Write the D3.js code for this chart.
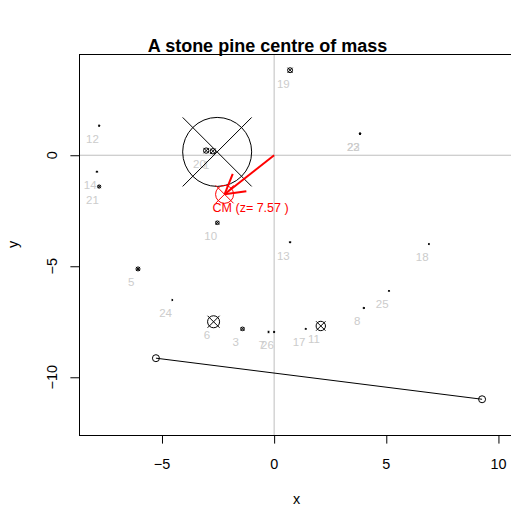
<!DOCTYPE html>
<html>
<head>
<meta charset="utf-8">
<script src="https://cdn.jsdelivr.net/npm/d3@7"></script>
<style>
  body { margin: 0; background: #fff; }
  svg { font-family: "Liberation Sans", Arial, Helvetica, sans-serif; }
</style>
</head>
<body>
<div id="chart"></div>
<script>
// branch masses (symbol size ~ mass)
const labels = ['1', '20', '', '12', '14', '21', '19', '22', '23', '10', '13', '18',
                '5', '24', '6', '3', '7', '26', '17', '11', '8', '25'];
const xs     = [-2.73, -3.03, -2.54, -7.80, -7.90, -7.80, 0.71, 3.83, 3.83, -2.53, 0.71, 6.90,
                -6.07, -4.54, -2.70, -1.41, -0.25, 0.00, 1.41, 2.08, 4.00, 5.12];
const ys     = [0.18, 0.21, 0.15, 1.33, -0.74, -1.41, 3.83, 0.97, 0.97, -3.04, -3.92, -4.00,
                -5.12, -6.52, -7.50, -7.82, -7.96, -7.96, -7.82, -7.69, -6.88, -6.11];
const masses = [7.8, 7.8, 100, 2, 2, 4.6, 7.2, 2, 2, 5.3, 2, 1.6,
                5.8, 1.6, 17.4, 5.3, 2, 2, 1.6, 13.6, 2, 1.6];

// base line of the tree
const baseX = [-5.27, 9.27];
const baseY = [-9.14, -10.99];

// centre of mass
const cmX = -2.21, cmY = -1.76, cmZ = 7.57;

const xTicks = [-5, 0, 5, 10];
const yTicks = [-10, -5, 0];

const W = 511, H = 507;
const plot = { left: 79, right: 511, top: 54, bottom: 435 };

const xScale = d3.scaleLinear().domain([-8.70, 10.56]).range([plot.left, plot.right]);
const yScale = d3.scaleLinear().domain([-12.6, 4.56]).range([plot.bottom, plot.top]);
const rScale = d3.scaleLinear().domain([0, 100]).range([0, 34.5]);

const svg = d3.select('#chart').append('svg')
    .attr('width', W)
    .attr('height', H);

const points = xs.map((x, i) => ({ label: labels[i], x: x, y: ys[i], m: masses[i] }));

// reference lines through the origin
svg.append('line')
    .attr('x1', xScale(0)).attr('x2', xScale(0))
    .attr('y1', plot.top).attr('y2', plot.bottom)
    .attr('stroke', '#bebebe');
svg.append('line')
    .attr('x1', plot.left).attr('x2', plot.right)
    .attr('y1', yScale(0)).attr('y2', yScale(0))
    .attr('stroke', '#bebebe');

// circle-cross symbol (R pch 13)
function crossCircle(g, cx, cy, r, colour) {
  g.append('circle')
      .attr('cx', cx).attr('cy', cy).attr('r', r)
      .attr('fill', 'none').attr('stroke', colour);
  g.append('line')
      .attr('x1', cx - r).attr('y1', cy - r).attr('x2', cx + r).attr('y2', cy + r)
      .attr('stroke', colour);
  g.append('line')
      .attr('x1', cx - r).attr('y1', cy + r).attr('x2', cx + r).attr('y2', cy - r)
      .attr('stroke', colour);
}

// labels, a little below-left of each point
svg.append('g').selectAll('text')
    .data(points)
  .enter().append('text')
    .attr('x', d => xScale(d.x - 0.3))
    .attr('y', d => yScale(d.y - 0.6))
    .attr('dy', '0.35em')
    .attr('text-anchor', 'middle')
    .style('font-size', '11.5px')
    .style('fill', '#cccccc')
    .text(d => d.label);

const symbols = svg.append('g');
points.forEach(d => crossCircle(symbols, xScale(d.x), yScale(d.y), rScale(d.m), '#000'));

// base line with open circles
svg.append('path')
    .datum(baseX.map((x, i) => [x, baseY[i]]))
    .attr('d', d3.line().x(d => xScale(d[0])).y(d => yScale(d[1])))
    .attr('fill', 'none')
    .attr('stroke', '#000');
svg.append('g').selectAll('circle')
    .data(baseX.map((x, i) => [x, baseY[i]]))
  .enter().append('circle')
    .attr('cx', d => xScale(d[0]))
    .attr('cy', d => yScale(d[1]))
    .attr('r', 3.5)
    .attr('fill', 'none')
    .attr('stroke', '#000');

// centre of mass: arrow from origin, symbol and label
const ox = xScale(0), oy = yScale(0), tx = xScale(cmX), ty = yScale(cmY);
const ang = Math.atan2(oy - ty, ox - tx), headLen = 22, headAng = Math.PI / 6;
const cmG = svg.append('g');
cmG.append('line')
    .attr('x1', ox).attr('y1', oy).attr('x2', tx).attr('y2', ty)
    .attr('stroke', '#ff0000').attr('stroke-width', 2);
[-1, 1].forEach(s => {
  cmG.append('line')
      .attr('x1', tx).attr('y1', ty)
      .attr('x2', tx + headLen * Math.cos(ang + s * headAng))
      .attr('y2', ty + headLen * Math.sin(ang + s * headAng))
      .attr('stroke', '#ff0000').attr('stroke-width', 2);
});
crossCircle(cmG, tx, ty, 9, '#ff0000');
cmG.append('text')
    .attr('x', tx - 12)
    .attr('y', ty + 13.3)
    .attr('dy', '0.35em')
    .style('font-size', '12.5px')
    .style('fill', '#ff0000')
    .text('CM (z= ' + cmZ + ' )');

// box
svg.append('rect')
    .attr('x', plot.left + 0.5).attr('y', plot.top + 0.5)
    .attr('width', plot.right - plot.left + 2).attr('height', plot.bottom - plot.top)
    .attr('fill', 'none').attr('stroke', '#000');

// axes
const xAxis = svg.append('g')
    .attr('transform', 'translate(0,' + plot.bottom + ')')
    .call(d3.axisBottom(xScale).tickValues(xTicks).tickSize(8.6).tickSizeOuter(0).tickFormat(''));
xAxis.select('.domain')
    .attr('d', 'M' + xScale(xTicks[0]) + ',0.5H' + xScale(xTicks[xTicks.length - 1]));
svg.append('g').selectAll('text')
    .data(xTicks)
  .enter().append('text')
    .attr('x', d => xScale(d))
    .attr('y', 468.5)
    .attr('text-anchor', 'middle')
    .style('font-size', '14.4px')
    .text(d => d3.format('')(d));

const yAxis = svg.append('g')
    .attr('transform', 'translate(' + plot.left + ',0)')
    .call(d3.axisLeft(yScale).tickValues(yTicks).tickSize(8.6).tickSizeOuter(0).tickFormat(''));
yAxis.select('.domain')
    .attr('d', 'M0.5,' + yScale(yTicks[0]) + 'V' + yScale(yTicks[yTicks.length - 1]));
svg.append('g').selectAll('text')
    .data(yTicks)
  .enter().append('text')
    .attr('transform', d => 'translate(57,' + yScale(d) + ') rotate(-90)')
    .attr('text-anchor', 'middle')
    .style('font-size', '14.4px')
    .text(d => d3.format('')(d));

// titles
svg.append('text')
    .attr('x', 267.5).attr('y', 52)
    .attr('text-anchor', 'middle')
    .style('font-size', '18px')
    .style('font-weight', 'bold')
    .text('A stone pine centre of mass');
svg.append('text')
    .attr('x', 296.5).attr('y', 504)
    .attr('text-anchor', 'middle')
    .style('font-size', '14.4px')
    .text('x');
svg.append('text')
    .attr('transform', 'translate(18,' + ((plot.top + plot.bottom) / 2) + ') rotate(-90)')
    .attr('text-anchor', 'middle')
    .style('font-size', '14.4px')
    .text('y');
</script>
</body>
</html>
